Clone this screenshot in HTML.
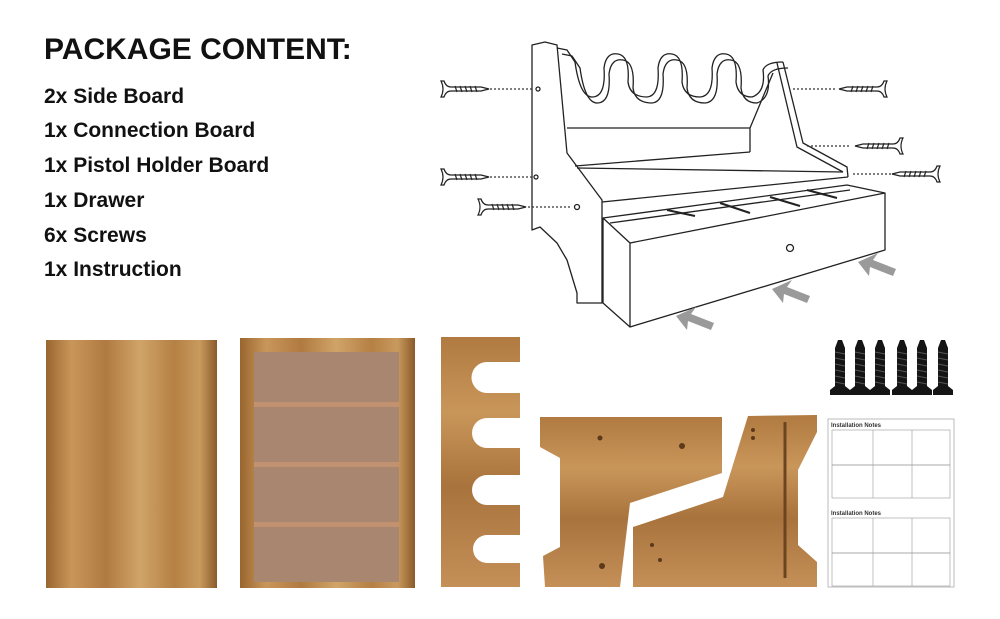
<!DOCTYPE html>
<html><head><meta charset="utf-8"><style>
body{margin:0;width:1000px;height:619px;background:#fff;overflow:hidden;position:relative;font-family:"Liberation Sans",Arial,sans-serif}
.t{position:absolute;left:44px;font-weight:bold;color:#111}
</style></head><body>
<div class="t" style="top:33px;font-size:30px">PACKAGE CONTENT:</div>
<div class="t" style="top:85px;font-size:21px">2x Side Board</div>
<div class="t" style="top:119px;font-size:21px">1x Connection Board</div>
<div class="t" style="top:154px;font-size:21px">1x Pistol Holder Board</div>
<div class="t" style="top:189px;font-size:21px">1x Drawer</div>
<div class="t" style="top:224px;font-size:21px">6x Screws</div>
<div class="t" style="top:258px;font-size:21px">1x Instruction</div>
<svg width="1000" height="619" style="position:absolute;left:0;top:0">
<defs>
<linearGradient id="w" x1="0" x2="1"><stop offset="0" stop-color="#9a6630"/><stop offset=".15" stop-color="#c9965a"/><stop offset=".35" stop-color="#b07a40"/><stop offset=".55" stop-color="#d0a468"/><stop offset=".75" stop-color="#b58044"/><stop offset=".9" stop-color="#c99a5e"/><stop offset="1" stop-color="#8a5a2a"/></linearGradient>
<linearGradient id="w2" x1="0" x2="0" y1="0" y2="1"><stop offset="0" stop-color="#b07a40"/><stop offset=".3" stop-color="#c9965a"/><stop offset=".6" stop-color="#a8733c"/><stop offset="1" stop-color="#c49058"/></linearGradient>
<g id="scr" fill="#fff" stroke="#222" stroke-width="1.2"><path d="M0 -8 Q4 0 0 8 L3 8 Q5 2 10 2 L40 2 L48 0 L40 -2 L10 -2 Q5 -2 3 -8 Z"/><path d="M14 -3 L16 3 M19 -3 L21 3 M24 -3 L26 3 M29 -3 L31 3 M34 -3 L36 3" /></g>
<g id="ar" fill="#9a9a9a"><path d="M0 0 L20 -9 L15 -2 L38 7 L35 14 L12 5 L11 14 Z"/></g>
<g id="bs"><path d="M-2 -26 L2 -26 L5 -18 L5 20 L10 24 L10 29 L-10 29 L-10 24 L-5 20 L-5 -18 Z" fill="#151515"/><path d="M-5 -14 L5 -12 M-5 -8 L5 -6 M-5 -2 L5 0 M-5 4 L5 6 M-5 10 L5 12 M-5 16 L5 18" stroke="#555" stroke-width="1"/></g>
<path id="wave" d="M557 48 L567 50 L575 62 Q580 98 593 97 Q606 96 604 68 Q606 52 618 54 Q630 56 628 82 Q630 97 647 97 Q660 96 658 68 Q660 52 672 54 Q684 56 682 82 Q684 97 700 97 Q714 96 712 68 Q714 52 726 54 Q738 56 736 82 Q738 97 752 97 Q766 92 763 70 Q766 62 783 62"/>
</defs>
<!-- line drawing -->
<g fill="none" stroke="#222" stroke-width="1.3" stroke-linejoin="round">
<path d="M532 45 L545 42 L557 45 L567 153 L602 200 L602 303 L577 303 L577 293 L567 260 L557 243 L540 227 L532 230 Z"/>
<use href="#wave"/>
<use href="#wave" transform="translate(5,6)"/>
<path d="M567 128 L750 128 L773 73 M750 128 L750 152"/>
<path d="M783 62 L803 143 L847 167 L848 177 M777 63 L797 147 L843 172"/>
<path d="M575 166 L750 152 M577 168 L843 172 M602 202 L848 177"/>
<path d="M603 218 L847 185 L885 193 L885 250 L630 327 L630 243 L603 218 Z M630 243 L885 193 M603 218 L603 303 L630 327"/>
<path d="M610 223 L850 190"/>
<circle cx="790" cy="248" r="3.5"/>
<circle cx="538" cy="89" r="2"/><circle cx="536" cy="177" r="2"/><circle cx="577" cy="207" r="2.5"/>
</g>
<g stroke="#222" stroke-width="2" fill="none">
<path d="M667 210 L695 216 M720 203 L750 213 M770 197 L800 206 M807 190 L837 198"/>
</g>
<g stroke="#333" stroke-dasharray="2 2" stroke-width="1.3">
<line x1="490" y1="89" x2="532" y2="89"/><line x1="490" y1="177" x2="532" y2="177"/><line x1="528" y1="207" x2="572" y2="207"/>
<line x1="793" y1="89" x2="836" y2="89"/><line x1="807" y1="146" x2="850" y2="146"/><line x1="853" y1="174" x2="892" y2="174"/>
</g>
<use href="#scr" x="441" y="89"/><use href="#scr" x="441" y="177"/><use href="#scr" x="478" y="207"/>
<use href="#scr" transform="translate(887,89) scale(-1,1)"/><use href="#scr" transform="translate(903,146) scale(-1,1)"/><use href="#scr" transform="translate(940,174) scale(-1,1)"/>
<use href="#ar" x="676" y="316"/><use href="#ar" x="772" y="289"/><use href="#ar" x="858" y="262"/>
<!-- boards -->
<rect x="46" y="340" width="171" height="248" fill="url(#w)"/>
<rect x="240" y="338" width="175" height="250" fill="url(#w)"/>
<rect x="254" y="352" width="145" height="230" fill="#a88670"/>
<g fill="#c29270"><rect x="254" y="402" width="145" height="5"/><rect x="254" y="462" width="145" height="5"/><rect x="254" y="522" width="145" height="5"/></g>
<path d="M441 337 L520 337 L520 362 L487 362 A15 15 0 0 0 487 393 L520 393 L520 418 L487 418 A15 15 0 0 0 487 448 L520 448 L520 475 L487 475 A15 15 0 0 0 487 505 L520 505 L520 535 L487 535 A14 14 0 0 0 487 563 L520 563 L520 587 L441 587 Z" fill="url(#w2)"/>
<path d="M540 417 L722 417 L722 473 L630 503 L620 587 L545 587 L543 556 L560 547 L560 458 L540 447 Z" fill="url(#w2)"/>
<path d="M748 416 L817 415 L817 432 L798 470 L798 545 L817 562 L817 587 L633 587 L633 527 L723 497 Z" fill="url(#w2)"/>
<line x1="785" y1="422" x2="785" y2="578" stroke="#6a4520" stroke-width="3"/>
<g fill="#5a3a1a"><circle cx="600" cy="438" r="2.5"/><circle cx="682" cy="446" r="3"/><circle cx="602" cy="566" r="3"/><circle cx="652" cy="545" r="2"/><circle cx="660" cy="560" r="2"/><circle cx="753" cy="430" r="2"/><circle cx="753" cy="438" r="2"/></g>
<!-- screws -->
<use href="#bs" x="840" y="366"/><use href="#bs" x="860" y="366"/><use href="#bs" x="880" y="366"/><use href="#bs" x="902" y="366"/><use href="#bs" x="922" y="366"/><use href="#bs" x="943" y="366"/>
<!-- instructions -->
<rect x="828" y="419" width="126" height="168" fill="#fff" stroke="#bbb"/>
<text x="831" y="427" font-size="6" font-weight="bold" font-family="Liberation Sans" fill="#333">Installation Notes</text>
<text x="831" y="515" font-size="6" font-weight="bold" font-family="Liberation Sans" fill="#333">Installation Notes</text>
<g fill="none" stroke="#999" stroke-width=".6">
<rect x="832" y="430" width="118" height="35"/><rect x="832" y="465" width="118" height="33"/><line x1="873" y1="430" x2="873" y2="498"/><line x1="912" y1="430" x2="912" y2="498"/>
<rect x="832" y="518" width="118" height="35"/><rect x="832" y="553" width="118" height="33"/><line x1="873" y1="518" x2="873" y2="586"/><line x1="912" y1="518" x2="912" y2="586"/>
</g>
</svg>
</body></html>
